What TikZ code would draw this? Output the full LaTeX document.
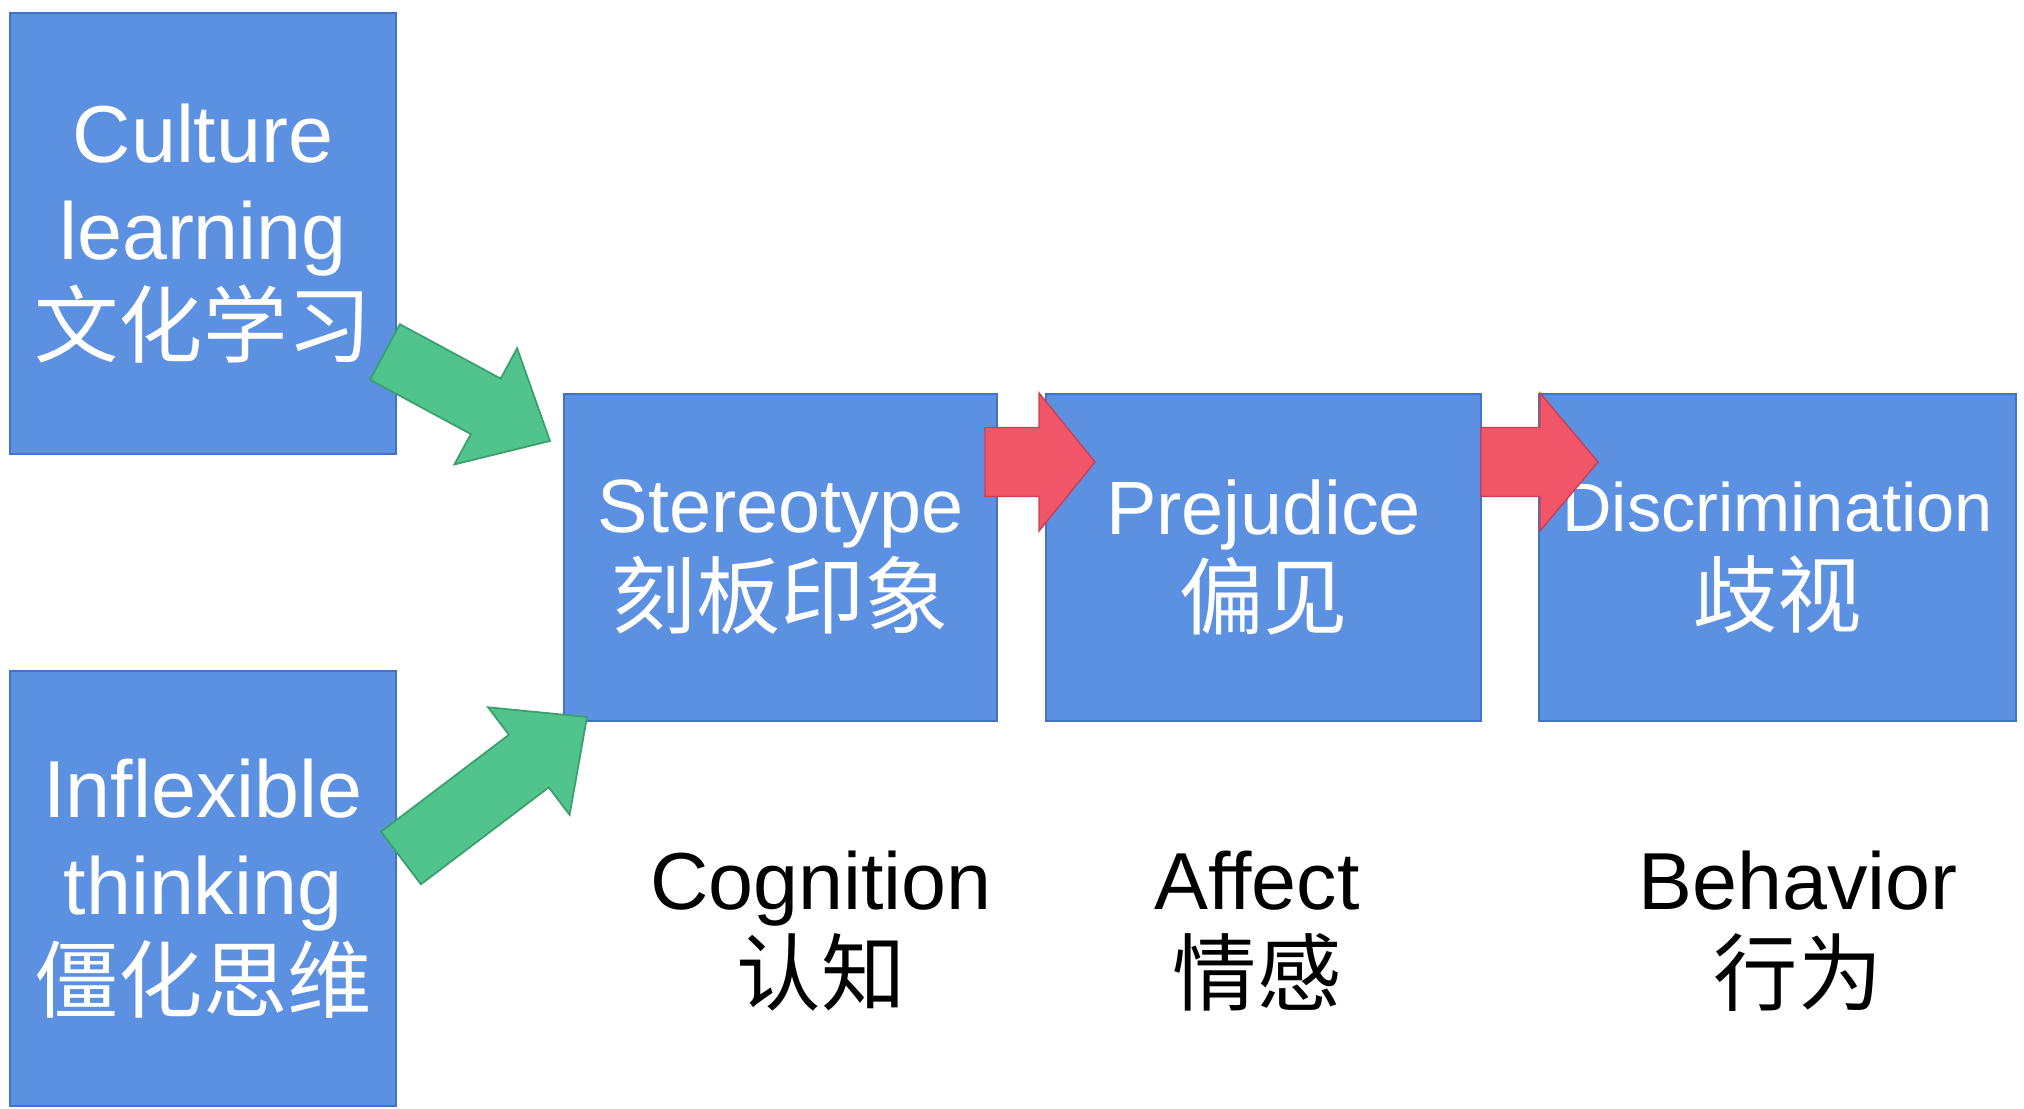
\documentclass[tikz,border=0pt]{standalone}
\usepackage{fontspec}
\setmainfont{Liberation Sans}
\newfontfamily\cjk{Noto Sans CJK SC}
\usetikzlibrary{calc}

\definecolor{boxblue}{RGB}{92,145,226}
\definecolor{boxline}{RGB}{68,114,196}
\definecolor{arrgreen}{RGB}{80,196,140}
\definecolor{arrgreenline}{RGB}{58,160,108}
\definecolor{arrred}{RGB}{240,86,104}
\definecolor{arrredline}{RGB}{205,62,82}

% block arrow: style, tail, tip, half shaft, half head, head length
\newcommand{\blockarrow}[6]{%
  \coordinate (ba) at ($(#3)!#6!(#2)$);
  \filldraw[#1] ($(#2)!#4!90:(#3)$) -- ($(ba)!#4!90:(#3)$) -- ($(ba)!#5!90:(#3)$) -- (#3)
    -- ($(ba)!#5!-90:(#3)$) -- ($(ba)!#4!-90:(#3)$) -- ($(#2)!#4!-90:(#3)$) -- cycle;
}

\tikzset{
  box/.style={rectangle, draw=boxline, fill=boxblue, text=white, align=center,
    inner sep=0pt, outer sep=0pt, line width=0.6pt},
  bigtxt/.style={font=\fontsize{23}{27.5}\selectfont},
  midtxt/.style={font=\fontsize{21.5}{27}\selectfont},
  greenarr/.style={fill=arrgreen, draw=arrgreenline, line width=0.5pt},
  redarr/.style={fill=arrred, draw=arrredline, line width=0.4pt},
  lab/.style={align=center, font=\fontsize{23}{27}\selectfont}
}

\begin{document}
\begin{tikzpicture}
	\useasboundingbox (0,0) rectangle (20.24,11.09);

	% causes
	\node[box, bigtxt, minimum width=3.86cm, minimum height=4.41cm] (cl) at (2.03,8.755)
		{Culture\\learning\\{\cjk\fontsize{24}{27.5}\selectfont 文化学习}};
	\node[box, bigtxt, minimum width=3.86cm, minimum height=4.35cm] (it) at (2.03,2.205)
		{Inflexible\\thinking\\{\cjk\fontsize{24}{27.5}\selectfont 僵化思维}};

	% chain
	\node[box, midtxt, minimum width=4.33cm, minimum height=3.27cm] (stereo) at (7.805,5.515)
		{Stereotype\\{\cjk\fontsize{24}{27}\selectfont 刻板印象}};
	\node[box, midtxt, minimum width=4.35cm, minimum height=3.27cm] (prej) at (12.635,5.515)
		{Prejudice\\{\cjk\fontsize{24}{27}\selectfont 偏见}};
	\node[box, font=\fontsize{19.5}{27}\selectfont, minimum width=4.77cm, minimum height=3.27cm] (discr) at (17.775,5.515)
		{Discrimination\\{\cjk\fontsize{24}{27}\selectfont 歧视}};

	% labels
	\node[lab] (cog) at (8.21,1.78) {Cognition\\{\cjk\fontsize{24}{27}\selectfont 认知}};
	\node[lab] (aff) at (12.57,1.78) {Affect\\{\cjk\fontsize{24}{27}\selectfont 情感}};
	\node[lab] (beh) at (17.98,1.78) {Behavior\\{\cjk\fontsize{24}{27}\selectfont 行为}};

	% arrow ends
	\coordinate (g1tail) at ($(cl.east)+(-0.11,-1.185)$);
	\coordinate (g1tip) at ($(stereo.north west)+(-0.14,-0.47)$);
	\coordinate (g2tail) at ($(it.east)+(0.05,0.305)$);
	\coordinate (g2tip) at ($(stereo.south west)+(0.23,0.04)$);
	\coordinate (r1tail) at ($(stereo.north east)+(-0.12,-0.68)$);
	\coordinate (r1tip) at ($(prej.north west)+(0.49,-0.68)$);
	\coordinate (r2tail) at ($(prej.north east)+(0,-0.68)$);
	\coordinate (r2tip) at ($(discr.north west)+(0.59,-0.68)$);

	\blockarrow{greenarr}{g1tail}{g1tip}{0.315cm}{0.66cm}{0.73cm}
	\blockarrow{greenarr}{g2tail}{g2tip}{0.33cm}{0.675cm}{0.73cm}
	\blockarrow{redarr}{r1tail}{r1tip}{0.345cm}{0.69cm}{0.56cm}
	\blockarrow{redarr}{r2tail}{r2tip}{0.345cm}{0.69cm}{0.58cm}
\end{tikzpicture}
\end{document}
